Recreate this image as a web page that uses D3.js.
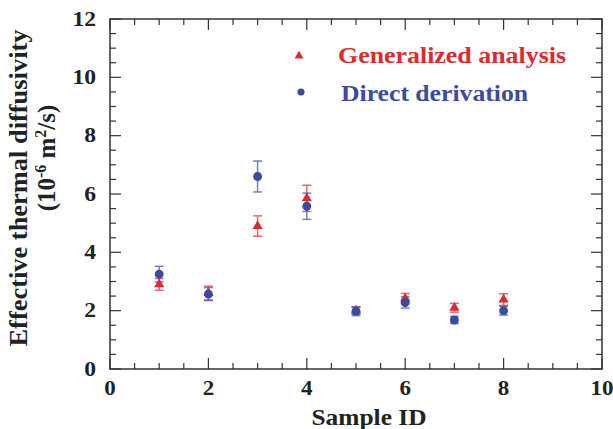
<!DOCTYPE html>
<html>
<head>
<meta charset="utf-8">
<script src="https://cdn.jsdelivr.net/npm/d3@7"></script>
<style>
  body { margin: 0; background: #fff; }
  text { font-family: "Liberation Serif", "Times New Roman", serif; font-weight: bold; }
</style>
</head>
<body>
<div id="chart"></div>
<script>
// sample ids
var sampleIds = [1, 2, 3, 4, 5, 6, 7, 8];
// generalized analysis (red triangles)
var genValues = [2.90, 2.60, 4.90, 5.85, 2.00, 2.42, 2.10, 2.38];
var genErrors = [0.20, 0.24, 0.35, 0.45, 0.12, 0.17, 0.15, 0.20];
// direct derivation (blue circles)
var dirValues = [3.25, 2.57, 6.60, 5.58, 1.98, 2.28, 1.68, 2.00];
var dirErrors = [0.27, 0.22, 0.53, 0.45, 0.15, 0.19, 0.12, 0.15];

var xMajor = [0, 2, 4, 6, 8, 10];
var yMajor = [0, 2, 4, 6, 8, 10, 12];

var margin = { top: 19, right: 11, bottom: 60, left: 110 },
    width = 613 - margin.left - margin.right,
    height = 429 - margin.top - margin.bottom;

var red = "#dc2a2e", blue = "#3a4ba0", axisCol = "#333";

var svg = d3.select("#chart").append("svg")
    .attr("width", 613)
    .attr("height", 429)
  .append("g")
    .attr("transform", "translate(" + margin.left + "," + margin.top + ")");

var x = d3.scaleLinear().domain([0, 10]).range([0, width]);
var y = d3.scaleLinear().domain([0, 12]).range([height, 0]);

var xMinor = d3.range(0, 10.01, 0.5);
var yMinor = d3.range(0, 12.01, 0.5);

function isMajor(v) { return Math.abs(v / 2 - Math.round(v / 2)) < 1e-6; }

// widen glyphs a bit, the reference font runs wider than Liberation Serif
function stretch(sel, factor) {
    sel.each(function() {
        var w = this.getComputedTextLength();
        d3.select(this).attr("textLength", w * factor).attr("lengthAdjust", "spacingAndGlyphs");
    });
}

// frame
svg.append("rect")
    .attr("width", width).attr("height", height)
    .attr("fill", "none").attr("stroke", axisCol).attr("stroke-width", 1.5);

// ticks (inward, on all four sides)
var ticks = svg.append("g").attr("stroke", axisCol).attr("stroke-width", 1.2);
xMinor.forEach(function(v) {
    var len = isMajor(v) ? 11 : 6;
    ticks.append("line").attr("x1", x(v)).attr("x2", x(v)).attr("y1", height).attr("y2", height - len);
    ticks.append("line").attr("x1", x(v)).attr("x2", x(v)).attr("y1", 0).attr("y2", len);
});
yMinor.forEach(function(v) {
    var len = isMajor(v) ? 11 : 6;
    ticks.append("line").attr("y1", y(v)).attr("y2", y(v)).attr("x1", 0).attr("x2", len);
    ticks.append("line").attr("y1", y(v)).attr("y2", y(v)).attr("x1", width).attr("x2", width - len);
});

// tick labels
svg.selectAll(".xLabel")
    .data(xMajor)
    .enter().append("text")
    .attr("class", "xLabel")
    .attr("x", function(d) { return x(d); })
    .attr("y", height + 26)
    .style("text-anchor", "middle")
    .style("font-size", "20px")
    .attr("fill", "#222")
    .text(function(d) { return d; })
    .call(stretch, 1.15);

svg.selectAll(".yLabel")
    .data(yMajor)
    .enter().append("text")
    .attr("class", "yLabel")
    .attr("x", -14)
    .attr("y", function(d) { return y(d) + 6.5; })
    .style("text-anchor", "end")
    .style("font-size", "20px")
    .attr("fill", "#222")
    .text(function(d) { return d; })
    .call(stretch, 1.18);

// axis titles
svg.append("text")
    .attr("x", width / 2 + 13)
    .attr("y", height + 56)
    .style("text-anchor", "middle")
    .style("font-size", "24px")
    .attr("fill", "#222")
    .text("Sample ID")
    .attr("textLength", 115).attr("lengthAdjust", "spacingAndGlyphs");

var yt = svg.append("g").attr("transform", "rotate(-90)");
yt.append("text")
    .attr("x", -(height / 2) + 6)
    .attr("y", -83)
    .style("text-anchor", "middle")
    .style("font-size", "25px")
    .attr("fill", "#222")
    .text("Effective thermal diffusivity")
    .attr("textLength", 317).attr("lengthAdjust", "spacingAndGlyphs");
var yt2 = yt.append("text")
    .attr("x", -(height / 2) + 36)
    .attr("y", -55)
    .style("text-anchor", "middle")
    .style("font-size", "25px")
    .attr("fill", "#222");
yt2.append("tspan").text("(10");
yt2.append("tspan").attr("dy", -9).style("font-size", "16px").text("-6");
yt2.append("tspan").attr("dy", 9).text(" m");
yt2.append("tspan").attr("dy", -9).style("font-size", "16px").text("2");
yt2.append("tspan").attr("dy", 9).text("/s)");

// error bars
function errorBars(values, errors, color) {
    var g = svg.append("g").attr("stroke", color).attr("stroke-width", 1.5).attr("opacity", 0.7);
    sampleIds.forEach(function(id, i) {
        var cx = x(id), top = y(values[i] + errors[i]), bot = y(values[i] - errors[i]);
        g.append("line").attr("x1", cx).attr("x2", cx).attr("y1", top).attr("y2", bot);
        g.append("line").attr("x1", cx - 4.5).attr("x2", cx + 4.5).attr("y1", top).attr("y2", top);
        g.append("line").attr("x1", cx - 4.5).attr("x2", cx + 4.5).attr("y1", bot).attr("y2", bot);
    });
}
errorBars(genValues, genErrors, red);
errorBars(dirValues, dirErrors, blue);

var tri = d3.symbol().type(d3.symbolTriangle).size(45);
var circ = d3.symbol().type(d3.symbolCircle).size(62);

svg.selectAll(".gen")
    .data(genValues)
    .enter().append("path")
    .attr("d", tri)
    .attr("transform", function(d, i) { return "translate(" + x(sampleIds[i]) + "," + y(d) + ")"; })
    .attr("fill", red);

svg.selectAll(".dir")
    .data(dirValues)
    .enter().append("path")
    .attr("d", circ)
    .attr("transform", function(d, i) { return "translate(" + x(sampleIds[i]) + "," + y(d) + ")"; })
    .attr("fill", blue);

// legend
var lg = svg.append("g");
lg.append("path").attr("d", d3.symbol().type(d3.symbolTriangle).size(35))
    .attr("transform", "translate(" + (299 - margin.left) + "," + (56 - margin.top) + ")")
    .attr("fill", red);
lg.append("text")
    .attr("x", 338 - margin.left).attr("y", 63 - margin.top)
    .style("font-size", "24px").attr("fill", red)
    .text("Generalized analysis")
    .attr("textLength", 228).attr("lengthAdjust", "spacingAndGlyphs");
lg.append("path").attr("d", d3.symbol().type(d3.symbolCircle).size(40))
    .attr("transform", "translate(" + (301 - margin.left) + "," + (92 - margin.top) + ")")
    .attr("fill", blue);
lg.append("text")
    .attr("x", 341 - margin.left).attr("y", 101 - margin.top)
    .style("font-size", "24px").attr("fill", blue)
    .text("Direct derivation")
    .attr("textLength", 187).attr("lengthAdjust", "spacingAndGlyphs");
</script>
</body>
</html>
